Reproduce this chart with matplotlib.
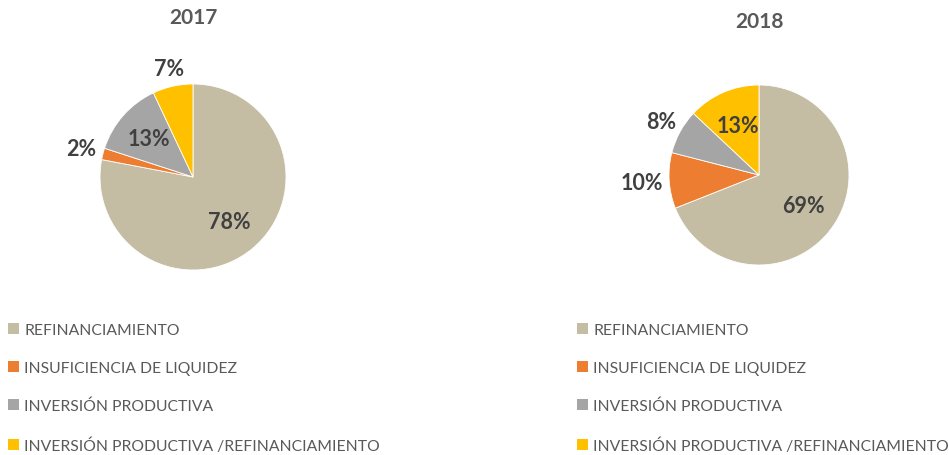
import numpy as np
import matplotlib.pyplot as plt
from matplotlib.patches import Patch

plt.rcParams['font.family'] = ['Lato', 'DejaVu Sans']

categories = ['REFINANCIAMIENTO', 'INSUFICIENCIA DE LIQUIDEZ',
              'INVERSIÓN PRODUCTIVA', 'INVERSIÓN PRODUCTIVA /REFINANCIAMIENTO']
years = ['2017', '2018']
values_2017 = [78, 2, 13, 7]
values_2018 = [69, 10, 8, 13]

colors = ['#C4BDA3', '#ED7D31', '#A5A5A5', '#FFC000']
# label distance from centre, as fraction of radius
dist_2017 = [0.62, 1.24, 0.63, 1.2]
dist_2018 = [0.6, 1.3, 1.24, 0.6]

W, H = 949, 456
fig = plt.figure(figsize=(W / 100, H / 100), dpi=100)

def draw(cx, cy, r, vals, dists, title, ty, legx):
    ax = fig.add_axes([(cx - r) / W, (H - cy - r) / H, 2 * r / W, 2 * r / H])
    wedges, _ = ax.pie(vals, colors=colors, startangle=90, counterclock=False,
                       wedgeprops=dict(linewidth=0.6, edgecolor='white'))
    ax.set_xlim(-1, 1)
    ax.set_ylim(-1, 1)
    for w, v, d in zip(wedges, vals, dists):
        a = np.deg2rad((w.theta1 + w.theta2) / 2)
        ax.text(d * np.cos(a), d * np.sin(a), f'{v}%', ha='center', va='center',
                fontsize=15.5, fontweight='bold', color='#404040')
    fig.text(cx / W, 1 - ty / H, title, ha='center', va='center',
             fontsize=15, fontweight='bold', color='#595959')
    handles = [Patch(facecolor=c, edgecolor='none') for c in colors]
    fig.legend(handles, categories, loc='upper left',
               bbox_to_anchor=(legx / W, 1 - 324 / H), frameon=False,
               fontsize=11.3, labelspacing=1.52, handlelength=0.72,
               handleheight=0.72, handletextpad=0.3, borderpad=0,
               borderaxespad=0, labelcolor='#595959')

draw(193, 178, 93, values_2017, dist_2017, years[0], 18, 8)
draw(759, 176, 90, values_2018, dist_2018, years[1], 22, 577)

fig.savefig('out.png', dpi=100)
